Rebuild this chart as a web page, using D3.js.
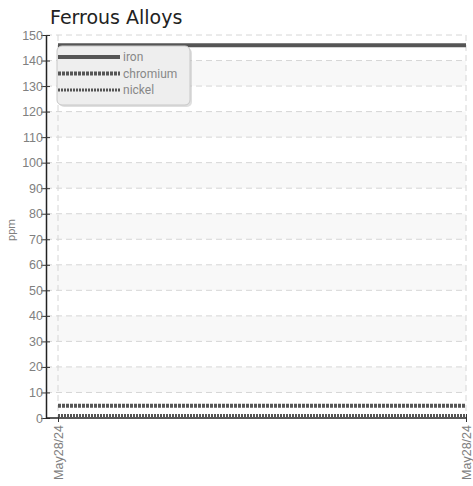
<!DOCTYPE html>
<html>
<head>
  <meta charset="utf-8">
  <script src="https://d3js.org/d3.v7.min.js"></script>
  <style>
    body { margin: 0; background: #fff; }
    svg { font-family: Roboto, sans-serif; }
    .tick text { fill: #808080; font-size: 12.5px; }
    .title { font-family: "DejaVu Sans", sans-serif; font-size: 19px; fill: #222; }
  </style>
</head>
<body>
  <svg width="473" height="486"></svg>
  <script>
    // chart data
    const dates = ["May28/24", "May28/24"];
    const iron = [146, 146];
    const chromium = [4.8, 4.8];
    const nickel = [1, 1];
    const yTicks = d3.range(0, 151, 10);

    const svg = d3.select("svg");
    const plotLeft = 58, plotRight = 466, plotTop = 35, plotBottom = 418, axisX = 46;

    const x = d3.scalePoint().domain(d3.range(dates.length)).range([plotLeft, plotRight]);
    const y = d3.scaleLinear().domain([0, 150]).range([plotBottom, plotTop]);

    // alternating bands
    svg.selectAll(".band")
      .data(yTicks.filter(v => v % 20 === 10 && v < 150))
      .enter().append("rect")
      .attr("x", axisX)
      .attr("y", d => y(d + 10))
      .attr("width", plotRight - axisX)
      .attr("height", d => y(d) - y(d + 10))
      .attr("fill", "#f8f8f8");

    // horizontal grid
    svg.selectAll(".hgrid")
      .data(yTicks.filter(v => v > 0))
      .enter().append("line")
      .attr("x1", axisX).attr("x2", plotRight)
      .attr("y1", d => y(d)).attr("y2", d => y(d))
      .attr("stroke", "#d6d6d6")
      .attr("stroke-dasharray", "6,4");

    // vertical grid
    svg.selectAll(".vgrid")
      .data(d3.range(dates.length))
      .enter().append("line")
      .attr("x1", d => x(d)).attr("x2", d => x(d))
      .attr("y1", plotTop).attr("y2", plotBottom)
      .attr("stroke", "#d6d6d6")
      .attr("stroke-dasharray", "6,4");

    // y axis
    const yAxis = svg.append("g")
      .attr("transform", `translate(${axisX},0)`)
      .call(d3.axisLeft(y).tickValues(yTicks).tickSizeInner(-4).tickSizeOuter(0).tickPadding(3));
    yAxis.select(".domain").attr("stroke", "#222").attr("stroke-width", 1.5);
    yAxis.selectAll(".tick line").attr("x1", -5).attr("x2", 4).attr("stroke", "#333");

    // x axis
    const xAxis = svg.append("g")
      .attr("transform", `translate(0,${plotBottom})`)
      .call(d3.axisBottom(x).tickFormat(i => dates[i]).tickSize(4).tickSizeOuter(0));
    xAxis.select(".domain").attr("d", `M${axisX},0H${plotRight + 1}`).attr("stroke", "#222").attr("stroke-width", 1.5);
    xAxis.selectAll(".tick line").attr("y1", -4).attr("stroke", "#333");
    xAxis.selectAll(".tick text")
      .attr("transform", "rotate(-90)")
      .attr("text-anchor", "end")
      .attr("x", -7).attr("y", 0).attr("dy", "0.35em");

    // series
    const line = d3.line().x((d, i) => x(i)).y(d => y(d));
    const series = [
      { name: "iron", values: iron, width: 4, dash: null },
      { name: "chromium", values: chromium, width: 4, dash: "3,1" },
      { name: "nickel", values: nickel, width: 3, dash: "2,1" }
    ];
    svg.selectAll(".series")
      .data(series)
      .enter().append("path")
      .attr("d", d => line(d.values))
      .attr("fill", "none")
      .attr("stroke", "#555")
      .attr("stroke-width", d => d.width)
      .attr("stroke-dasharray", d => d.dash);

    // axis label
    svg.append("text")
      .attr("transform", "translate(15,230) rotate(-90)")
      .attr("text-anchor", "middle")
      .attr("font-size", 11)
      .attr("fill", "#808080")
      .text("ppm");

    // title
    svg.append("text")
      .attr("class", "title")
      .attr("x", 50).attr("y", 24)
      .text("Ferrous Alloys");

    // legend
    const legend = svg.append("g");
    legend.append("rect")
      .attr("x", 58).attr("y", 47).attr("width", 133).attr("height", 59)
      .attr("rx", 5)
      .attr("fill", "#c0c0c0").attr("fill-opacity", 0.5)
      .attr("transform", "translate(1,1)");
    legend.append("rect")
      .attr("x", 57).attr("y", 46).attr("width", 133).attr("height", 59)
      .attr("rx", 5)
      .attr("fill", "#eeeeee")
      .attr("stroke", "#c8c8c8");
    const items = legend.selectAll(".item")
      .data(series)
      .enter().append("g")
      .attr("transform", (d, i) => `translate(58,${57 + i * 16.5})`);
    items.append("line")
      .attr("x1", 0).attr("x2", 62)
      .attr("stroke", "#555")
      .attr("stroke-width", d => d.width)
      .attr("stroke-dasharray", d => d.dash);
    items.append("text")
      .attr("x", 65).attr("dy", "0.35em")
      .attr("font-size", 12)
      .attr("fill", "#888")
      .text(d => d.name);
  </script>
</body>
</html>
